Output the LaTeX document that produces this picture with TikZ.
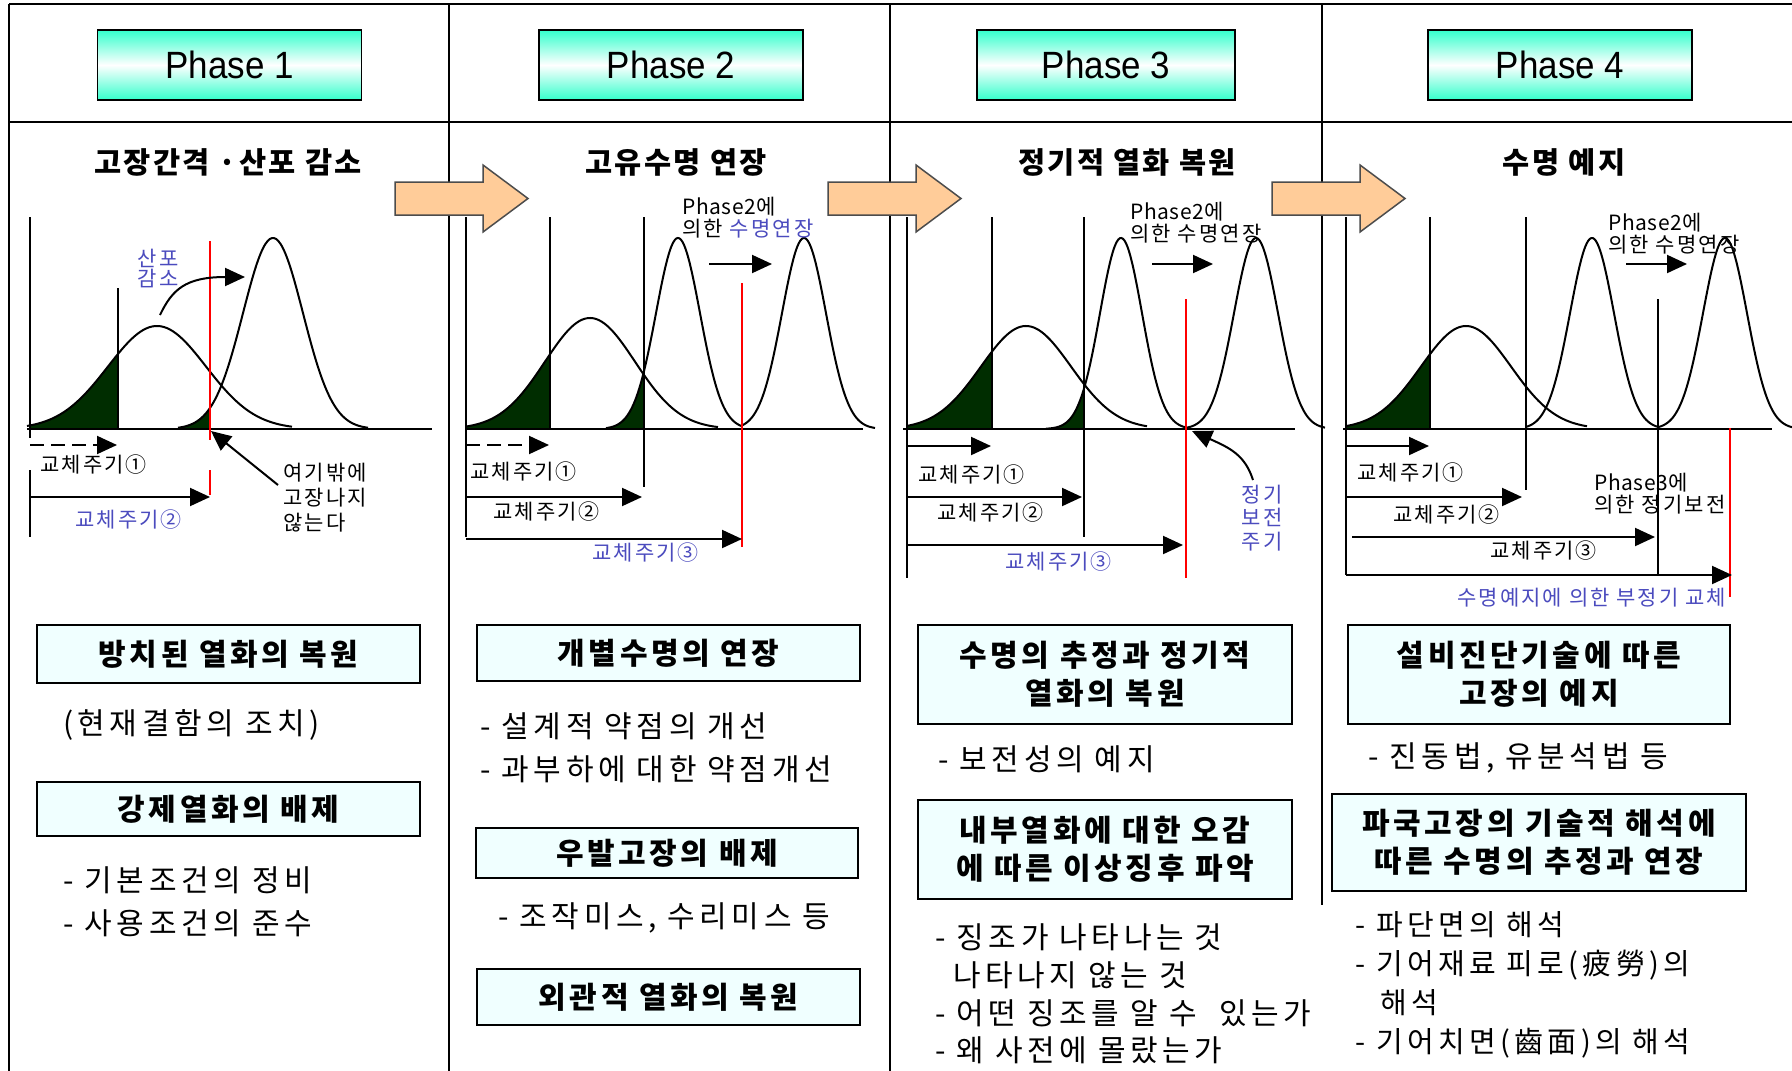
\documentclass[tikz,border=0pt]{standalone}
\usepackage{fontspec}
\setmainfont{Noto Sans CJK KR}
\newfontfamily\krT[LetterSpace=8]{Noto Sans CJK KR}
\newfontfamily\krX[LetterSpace=12]{Noto Sans CJK KR}
\newfontfamily\krB[LetterSpace=15]{Noto Sans CJK KR}
\newfontfamily\krL[LetterSpace=10]{Noto Sans CJK KR}
\newfontfamily\krP[LetterSpace=3]{Noto Sans CJK KR}
\newfontfamily\phfont[FakeStretch=0.92]{Liberation Sans}
\usetikzlibrary{arrows.meta}
\definecolor{blu}{RGB}{75,75,190}
\definecolor{dkgreen}{RGB}{0,45,0}
\definecolor{peach}{RGB}{255,204,153}
\definecolor{aqua}{RGB}{51,255,204}
\definecolor{boxfill}{RGB}{240,255,255}
\tikzset{
  frame/.style={line width=2pt, black},
  ln/.style={line width=2pt, black},
  redln/.style={line width=2pt, red},
  arr/.style={line width=2pt, black, -{Triangle[length=20pt,width=18pt]}},
  dasharr/.style={arr, dash pattern=on 14pt off 7pt},
  phasebox/.style={draw=black, line width=1.6pt, top color=aqua, bottom color=aqua, middle color=white,
    minimum width=264pt, minimum height=70pt, inner sep=0pt, font=\phfont\fontsize{38}{42}\selectfont},
  peacharrow/.style={draw=black!70, line width=1.5pt, fill=peach},
  ttl/.style={inner sep=0pt, font=\krT\bfseries\fontsize{29.5}{32}\selectfont},
  lab/.style={inner sep=0pt, anchor=west, align=left, font=\krL\fontsize{21}{22}\selectfont},
  bluelab/.style={lab, text=blu},
  boxt/.style={draw=black, line width=1.8pt, fill=boxfill, inner sep=0pt, align=center,
    font=\krX\bfseries\fontsize{30}{38}\selectfont},
  body/.style={inner sep=0pt, anchor=west, align=left, font=\krB\fontsize{30}{43}\selectfont},
}
\newcommand\bellcurve[5]{\draw[ln] plot[domain=#4:#5, samples=90, smooth] ({#1+\x},{429-#2*exp(-0.5*(\x/#3)^2)});}
\newcommand\bellfill[5]{\fill[dkgreen] plot[domain=#4:#5, samples=40] ({#1+\x},{429-#2*exp(-0.5*(\x/#3)^2)}) -- ({#1+#5},429) -- ({#1+#4},429) -- cycle;}
\newcommand\peachshape[1]{\draw[peacharrow] (#1,182) -- ({#1+88},182) -- ({#1+88},165) -- ({#1+133},198.5) -- ({#1+88},232) -- ({#1+88},215) -- (#1,215) -- cycle;}
\begin{document}
\begin{tikzpicture}[x=1pt,y=-1pt]
\useasboundingbox (0,0) rectangle (1792,1071);
\fill[white] (0,0) rectangle (1792,1071);

% ---------- frame ----------
\draw[frame] (9,4) -- (1792,4);
\draw[frame] (9,4) -- (9,1071);
\draw[frame] (9,122) -- (1792,122);
\draw[frame] (449,4) -- (449,1071);
\draw[frame] (890,4) -- (890,1071);
\draw[frame] (1322,4) -- (1322,905);

% ---------- phase boxes ----------
\node[phasebox] (ph1) at (229.5,65) {\raisebox{-4pt}{Phase 1}};
\node[phasebox] (ph2) at (671,65) {\raisebox{-4pt}{Phase 2}};
\node[phasebox, minimum width=258pt] (ph3) at (1106,65) {\raisebox{-4pt}{Phase 3}};
\node[phasebox] (ph4) at (1560,65) {\raisebox{-4pt}{Phase 4}};

% ---------- titles ----------
\node[ttl] (t1) at (228,162) {고장간격 ·산포 감소};
\node[ttl] (t2) at (676,162) {고유수명 연장};
\node[ttl] (t3) at (1127,162) {정기적 열화 복원};
\node[ttl] (t4) at (1564,162) {수명 예지};

% ---------- orange arrows ----------
\peachshape{395}
\peachshape{828}
\peachshape{1272}

% ================= Phase 1 chart =================
\bellfill{157}{103}{49}{-127}{-39}
\bellfill{273}{191}{30}{-95}{-63}
\bellcurve{157}{103}{49}{-130}{135}
\bellcurve{273}{191}{30}{-95}{95}
\draw[ln] (30,217) -- (30,438);
\draw[ln] (30,470) -- (30,537);
\draw[ln] (27,429) -- (432,429);
\draw[ln] (118,288) -- (118,429);
\draw[redln] (210,241) -- (210,440);
\draw[redln] (210,470) -- (210,495);
\node[bluelab, anchor=center, align=center, font=\krL\fontsize{21}{20}\selectfont] (p1s) at (158,268) {산포\\감소};
\draw[arr] (160,315) .. controls (172,290) and (185,277) .. (245,277);
\draw[dasharr] (30,445) -- (117,445);
\node[lab] (p1c1) at (40,465) {교체주기①};
\draw[arr] (30,497) -- (210,497);
\node[bluelab] (p1c2) at (75,520) {교체주기②};
\node[lab, font=\krL\fontsize{21}{25}\selectfont] (p1n) at (283,498) {여기밖에\\고장나지\\않는다};
\draw[arr] (278,485) -- (211,431);

% ================= Phase 2 chart =================
\bellfill{590}{111}{45}{-124}{-40}
\bellfill{678}{191}{22}{-72}{-34}
\bellcurve{590}{111}{45}{-124}{128}
\bellcurve{678}{191}{22}{-72}{64}
\bellcurve{804}{191}{22}{-62}{71}
\draw[ln] (466,217) -- (466,537);
\draw[ln] (466,429) -- (863,429);
\draw[ln] (550,217) -- (550,429);
\draw[ln] (644,217) -- (644,487);
\draw[redln] (742,283) -- (742,547);
\node[lab] (p2ext) at (682,218) {{\krP Phase2}에\\의한 {\color{blu}수명연장}};
\draw[arr] (709,264) -- (772,264);
\draw[dasharr] (466,445) -- (549,445);
\node[lab] (p2c1) at (470,472) {교체주기①};
\draw[arr] (466,497) -- (642,497);
\node[lab] (p2c2) at (493,512) {교체주기②};
\draw[arr] (466,539) -- (742,539);
\node[bluelab] (p2c3) at (592,553) {교체주기③};

% ================= Phase 3 chart =================
\bellfill{1026}{103}{45}{-119}{-34}
\bellfill{1121}{191}{21}{-75}{-37}
\bellcurve{1026}{103}{45}{-119}{121}
\bellcurve{1121}{191}{21}{-75}{65}
\bellcurve{1256}{191}{22}{-70}{69}
\draw[ln] (907,217) -- (907,578);
\draw[ln] (903,429) -- (1295,429);
\draw[ln] (992,217) -- (992,429);
\draw[ln] (1084,217) -- (1084,537);
\draw[redln] (1186,299) -- (1186,578);
\node[lab] (p3ext) at (1130,223) {{\krP Phase2}에\\의한 수명연장};
\draw[arr] (1152,264) -- (1213,264);
\draw[arr] (907,446) -- (991,446);
\node[lab] (p3c1) at (918,475) {교체주기①};
\draw[arr] (907,497) -- (1082,497);
\node[lab] (p3c2) at (937,513) {교체주기②};
\draw[arr] (907,545) -- (1183,545);
\node[bluelab] (p3c3) at (1005,562) {교체주기③};
\node[bluelab, anchor=center, align=center, font=\krL\fontsize{21}{23.5}\selectfont] (p3pm) at (1262,518) {정기\\보전\\주기};
\draw[arr] (1253,480) .. controls (1245,455) and (1230,448) .. (1192,431);

% ================= Phase 4 chart =================
\bellfill{1466}{103}{45}{-120}{-36}
\bellcurve{1466}{103}{45}{-120}{121}
\bellcurve{1592}{191}{22}{-66}{66}
\bellcurve{1725}{191}{22}{-67}{67}
\draw[ln] (1346,217) -- (1346,575);
\draw[ln] (1343,429) -- (1772,429);
\draw[ln] (1430,217) -- (1430,429);
\draw[ln] (1526,217) -- (1526,490);
\draw[redln] (1730,428) -- (1730,597);
\node[lab] (p4ext) at (1608,234) {{\krP Phase2}에\\의한 수명연장};
\draw[arr] (1626,264) -- (1687,264);
\draw[arr] (1346,446) -- (1429,446);
\node[lab] (p4c1) at (1357,473) {교체주기①};
\draw[arr] (1346,497) -- (1522,497);
\node[lab] (p4c2) at (1393,515) {교체주기②};
\node[lab] (p4p3) at (1594,494) {{\krP Phase3}에\\의한 정기보전};
\draw[ln] (1658,299) -- (1658,575);
\draw[arr] (1352,537) -- (1655,537);
\node[lab] (p4c3) at (1490,551) {교체주기③};
\draw[arr] (1346,575) -- (1732,575);
\node[bluelab] (p4c4) at (1457,598) {수명예지에 의한 부정기 교체};

% ================= bottom: Phase 1 =================
\node[boxt, minimum width=383pt, minimum height=58pt] (b11) at (228.5,654) {방치된 열화의 복원};
\node[body] (x11) at (63,725) {(현재결함의 조치)};
\node[boxt, minimum width=383pt, minimum height=54pt] (b12) at (228.5,809) {강제열화의 배제};
\node[body] (x12) at (63,901.5) {- 기본조건의 정비\\- 사용조건의 준수};

% ================= bottom: Phase 2 =================
\node[boxt, minimum width=383pt, minimum height=56pt] (b21) at (668.5,653) {개별수명의 연장};
\node[body] (x21) at (480,747.5) {- 설계적 약점의 개선\\- 과부하에 대한 약점개선};
\node[boxt, minimum width=382pt, minimum height=50pt] (b22) at (667,853) {우발고장의 배제};
\node[body] (x22) at (498,918) {- 조작미스, 수리미스 등};
\node[boxt, minimum width=383pt, minimum height=56pt] (b23) at (668.5,997) {외관적 열화의 복원};

% ================= bottom: Phase 3 =================
\node[boxt, minimum width=374pt, minimum height=99pt] (b31) at (1105,674.5) {수명의 추정과 정기적\\열화의 복원};
\node[body] (x31) at (938,759) {- 보전성의 예지};
\node[boxt, minimum width=374pt, minimum height=99pt] (b32) at (1105,849.5) {내부열화에 대한 오감\\에 따른 이상징후 파악};
\node[body, font=\krB\fontsize{30}{37.7}\selectfont] (x32) at (935,994) {- 징조가 나타나는 것\\\hspace*{18pt}나타나지 않는 것\\- 어떤 징조를 알 수 \ 있는가\\- 왜 사전에 몰랐는가};

% ================= bottom: Phase 4 =================
\node[boxt, minimum width=382pt, minimum height=99pt] (b41) at (1539,674.5) {설비진단기술에 따른\\고장의 예지};
\node[body] (x41) at (1368,758) {- 진동법, 유분석법 등};
\node[boxt, minimum width=414pt, minimum height=97pt] (b42) at (1539,842.5) {파국고장의 기술적 해석에\\따른 수명의 추정과 연장};
\node[body, font=\krB\fontsize{29}{39}\selectfont] (x42) at (1355,985) {- 파단면의 해석\\- 기어재료 피로(疲勞)의\\\hspace*{25pt}해석\\- 기어치면(齒面)의 해석};
\end{tikzpicture}
\end{document}
